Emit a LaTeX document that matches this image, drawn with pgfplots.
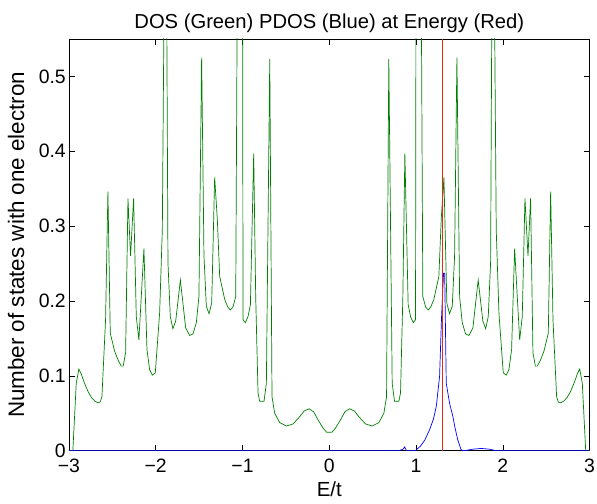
\documentclass[border=0pt]{standalone}
\usepackage{fontspec}
\setmainfont{Liberation Sans}
\usepackage{pgfplots}
\pgfplotsset{compat=1.18}
\definecolor{mgreen}{rgb}{0,0.5,0}
\definecolor{mred}{RGB}{235,40,20}
\begin{document}
\begin{tikzpicture}[x=1bp,y=1bp]
\begin{axis}[
  scale only axis,
  width=521bp, height=412bp,
  xmin=-3, xmax=3, ymin=0, ymax=0.55,
  xtick={-3,-2,-1,0,1,2,3},
  xticklabels={−3,−2,−1,0,1,2,3},
  ytick={0,0.1,0.2,0.3,0.4,0.5},
  yticklabels={0,0.1,0.2,0.3,0.4,0.5},
  /pgf/number format/assume math mode=true,
  tick label style={font=\fontsize{19.5}{22}\selectfont},
  xlabel style={font=\fontsize{20.5}{24}\selectfont, yshift=-4bp},
  ylabel style={font=\fontsize{22.5}{26}\selectfont, yshift=8bp},
  title style={font=\fontsize{20.3}{24}\selectfont, yshift=-3bp},
  title={DOS (Green) PDOS (Blue) at Energy (Red)},
  xlabel={E/t},
  ylabel={Number of states with one electron},
  tick align=inside,
  major tick length=6bp,
  tick style={black, line width=0.5bp},
  axis line style={line width=0.8bp},
  xticklabel style={inner sep=2bp, yshift=-6bp},
  yticklabel style={inner sep=3bp},
  clip=true,
]
\addplot[mgreen, line width=0.7bp] coordinates {
(-3.0,0) (-2.955,0) (-2.916,0.090) (-2.886,0.109) (-2.86,0.103) (-2.82,0.090) (-2.78,0.079) (-2.74,0.071) (-2.70,0.066) (-2.667,0.064) (-2.64,0.065) (-2.62,0.072)
(-2.578,0.175) (-2.551,0.346) (-2.524,0.157) (-2.474,0.133) (-2.43,0.120) (-2.397,0.113) (-2.375,0.113) (-2.347,0.131) (-2.32,0.337) (-2.29,0.260) (-2.255,0.337)
(-2.224,0.179) (-2.194,0.148) (-2.136,0.270) (-2.101,0.135) (-2.07,0.108) (-2.039,0.101) (-2.005,0.104) (-1.955,0.184) (-1.924,0.295) (-1.897,0.70) (-1.878,0.70)
(-1.859,0.251) (-1.832,0.179) (-1.802,0.163) (-1.77,0.173) (-1.716,0.228) (-1.655,0.164) (-1.609,0.154) (-1.571,0.156) (-1.532,0.171) (-1.502,0.206) (-1.471,0.525)
(-1.444,0.260) (-1.417,0.193) (-1.386,0.183) (-1.355,0.197) (-1.321,0.365) (-1.290,0.309) (-1.263,0.233) (-1.205,0.202) (-1.17,0.192) (-1.140,0.188) (-1.11,0.192)
(-1.078,0.206) (-1.052,0.80) (-1.001,0.80) (-0.994,0.175) (-0.967,0.171) (-0.937,0.179) (-0.909,0.195) (-0.871,0.397) (-0.848,0.206) (-0.821,0.077) (-0.802,0.066)
(-0.752,0.066) (-0.725,0.090) (-0.686,0.523) (-0.660,0.072) (-0.629,0.050) (-0.571,0.0375) (-0.494,0.033) (-0.418,0.0357) (-0.340,0.0455) (-0.29,0.053) (-0.233,0.056)
(-0.18,0.052) (-0.129,0.041) (-0.07,0.030) (-0.03,0.0246) (0.03,0.0246)
(0.07,0.030) (0.129,0.041) (0.18,0.052) (0.233,0.056) (0.29,0.053) (0.340,0.0455) (0.418,0.0357) (0.494,0.033) (0.571,0.0375) (0.629,0.050) (0.660,0.072)
(0.686,0.523) (0.725,0.090) (0.752,0.066) (0.802,0.066) (0.821,0.077) (0.848,0.206) (0.871,0.397) (0.909,0.195) (0.937,0.179) (0.967,0.171) (0.994,0.175)
(1.001,0.80) (1.052,0.80) (1.078,0.206) (1.11,0.192) (1.140,0.188) (1.17,0.192) (1.205,0.202) (1.263,0.233) (1.290,0.309) (1.321,0.365) (1.355,0.197)
(1.386,0.183) (1.417,0.193) (1.444,0.260) (1.471,0.525) (1.502,0.206) (1.532,0.171) (1.571,0.156) (1.609,0.154) (1.655,0.164) (1.716,0.228) (1.77,0.173)
(1.802,0.163) (1.832,0.179) (1.859,0.251) (1.878,0.70) (1.897,0.70) (1.924,0.295) (1.955,0.184) (2.005,0.104) (2.039,0.101) (2.07,0.108) (2.101,0.135)
(2.136,0.270) (2.194,0.148) (2.224,0.179) (2.255,0.337) (2.29,0.260) (2.32,0.337) (2.347,0.131) (2.375,0.113) (2.397,0.113) (2.43,0.120) (2.474,0.133)
(2.524,0.157) (2.551,0.346) (2.578,0.175) (2.62,0.072) (2.64,0.065) (2.667,0.064) (2.70,0.066) (2.74,0.071) (2.78,0.079) (2.82,0.090) (2.86,0.103)
(2.886,0.109) (2.916,0.090) (2.955,0) (3.0,0)
};
\addplot[blue, line width=0.7bp] coordinates {
(-3,0) (0.80,0) (0.85,0.002) (0.868,0.005) (0.89,0) (0.99,0) (1.0,0.001) (1.05,0.006) (1.10,0.014) (1.156,0.028) (1.20,0.042) (1.233,0.059) (1.271,0.099)
(1.294,0.179) (1.317,0.237) (1.33,0.237) (1.348,0.090) (1.387,0.063) (1.425,0.0455) (1.45,0.030) (1.482,0.014) (1.52,0.001) (1.56,0) (1.65,0.002) (1.75,0.003)
(1.85,0.002) (1.92,0) (3,0)
};
\addplot[color=mred, line width=1bp] coordinates {(1.31,0) (1.31,0.55)};
\end{axis}
\path[use as bounding box] ([shift={(-69bp,-53bp)}]current axis.south west) rectangle ([shift={(7bp,39bp)}]current axis.north east);
\end{tikzpicture}
\end{document}
